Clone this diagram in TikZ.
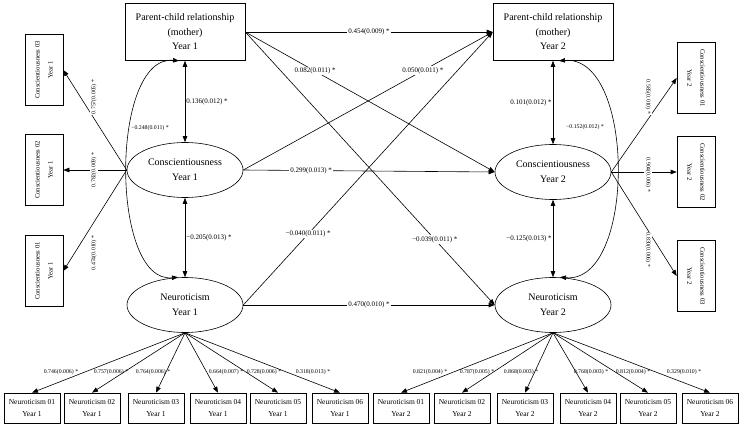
\documentclass[tikz,border=0pt]{standalone}
\usepackage{fontspec}
\setmainfont{Liberation Serif}
\usetikzlibrary{arrows.meta, shapes.geometric}
\tikzset{
    factor/.style={draw, rectangle, align=center, minimum width=120, minimum height=57, font=\fontsize{10}{14.5}\selectfont}, % 观测变量方框
    latent/.style={draw, ellipse, align=center, inner sep=1pt, minimum width=116, minimum height=55, font=\fontsize{10}{15}\selectfont}, % 潜变量椭圆
    item/.style={draw, rectangle, align=center, minimum width=56, minimum height=30, inner sep=1pt, font=\fontsize{7.5}{12}\selectfont}, % 神经质条目
    side/.style={draw, rectangle, align=center, minimum width=71, minimum height=38, inner sep=1pt, font=\fontsize{6.7}{13}\selectfont}, % 尽责性条目
    coef/.style={fill=white, inner sep=1pt, font=\fontsize{7}{8}\selectfont}, % 路径系数
    load/.style={inner sep=1pt, font=\fontsize{5.8}{7}\selectfont} % 因子载荷
}

\begin{document}
\begin{tikzpicture}[x=1pt, y=-1pt, line width=0.6pt, >={Triangle[length=6pt, width=4.5pt]}]
    \def\yitem{408} \def\yload{372}
    \useasboundingbox (0,0) rectangle (741,434);

    \node[factor] (pc1) at (185,32) {Parent-child relationship\\(mother)\\Year 1};
    \node[factor] (pc2) at (553,32) {Parent-child relationship\\(mother)\\Year 2};
    \node[latent] (con1) at (185,170) {Conscientiousness\\Year 1};
    \node[latent] (con2) at (553,172) {Conscientiousness\\Year 2};
    \node[latent] (neu1) at (185,305) {Neuroticism\\Year 1};
    \node[latent] (neu2) at (553,305) {Neuroticism\\Year 2};

    % 同时间点相关
    \draw[<->] (pc1) -- node[right, load, font=\fontsize{7}{8}\selectfont] {0.136(0.012) *} (con1);
    \draw[<->] (con1) -- node[right, load, font=\fontsize{7}{8}\selectfont] {−0.205(0.013) *} (neu1);
    \draw[<->] (pc2) -- node[left, load, font=\fontsize{7}{8}\selectfont] {0.101(0.012) *} (con2);
    \draw[<->] (con2) -- node[left, load, font=\fontsize{7}{8}\selectfont] {−0.125(0.013) *} (neu2);
    \draw[<->] ([xshift=-6pt]pc1.south) .. controls (110,55) and (110,284) .. ([xshift=-7pt]neu1.north);
    \draw[<->] ([xshift=6pt]pc2.south) .. controls (636,55) and (636,284) .. ([xshift=7pt]neu2.north);
    \node[load] (r1) at (150,128) {−0.248(0.011) *};
    \node[load] (r2) at (585,127) {−0.152(0.012) *};

    % 交叉滞后路径
    \draw[->] (pc1.east) -- node[coef] {0.454(0.009) *} (pc2.west);
    \draw[->] (pc1.east) -- node[coef, pos=0.28] {0.082(0.011) *} (con2.west);
    \draw[->] (pc1.east) -- node[coef, pos=0.76] {−0.039(0.011) *} (neu2.west);
    \draw[->] (con1.east) -- node[coef, pos=0.72] {0.050(0.011) *} (pc2.west);
    \draw[->] (con1.east) -- node[coef, pos=0.27] {0.299(0.013) *} (con2.west);
    \draw[->] (neu1.east) -- node[coef, pos=0.26] {−0.040(0.011) *} (pc2.west);
    \draw[->] (neu1.east) -- node[coef] {0.470(0.010) *} (neu2.west);

    % 尽责性测量模型
    \foreach \i/\y/\ly/\val in {3/70/97/0.757(0.005), 2/170/170/0.782(0.009), 1/271/253/0.474(0.010)} {
        \node[side, rotate=90] (conL-\i) at (44,\y) {Conscientiousness 0\i\\Year 1};
        \draw[->] (con1.west) -- (conL-\i.south);
        \node[load, fill=white, rotate=90] at (94,\ly) {\val{} *};
    }
    \foreach \i/\y/\ly/\val in {1/78/97/0.585(0.010), 2/172/175/0.904(0.006), 3/276/250/0.830(0.006)} {
        \node[side, rotate=-90] (conR-\i) at (696,\y) {Conscientiousness 0\i\\Year 2};
        \draw[->] (con2.east) -- (conR-\i.south);
        \node[load, fill=white, rotate=-90] at (648,\ly) {\val{} *};
    }

    % 神经质测量模型
    \foreach \i/\x/\lx/\val in {1/32/61/0.746(0.006), 2/92/111/0.757(0.006), 3/156/153/0.764(0.006), 4/218/226/0.664(0.007), 5/278/264/0.728(0.006), 6/340/313/0.318(0.013)} {
        \node[item] (neu1-\i) at (\x,\yitem) {Neuroticism 0\i\\Year 1};
        \draw[->] (neu1.south) -- (neu1-\i.north);
        \node[load] at (\lx,\yload) {\val{} *};
    }
    \foreach \i/\x/\lx/\val in {1/401/430/0.821(0.004), 2/462/477/0.787(0.005), 3/525/521/0.868(0.003), 4/588/591/0.768(0.003), 5/648/633/0.812(0.004), 6/710/684/0.329(0.010)} {
        \node[item] (neu2-\i) at (\x,\yitem) {Neuroticism 0\i\\Year 2};
        \draw[->] (neu2.south) -- (neu2-\i.north);
        \node[load] at (\lx,\yload) {\val{} *};
    }
\end{tikzpicture}
\end{document}
